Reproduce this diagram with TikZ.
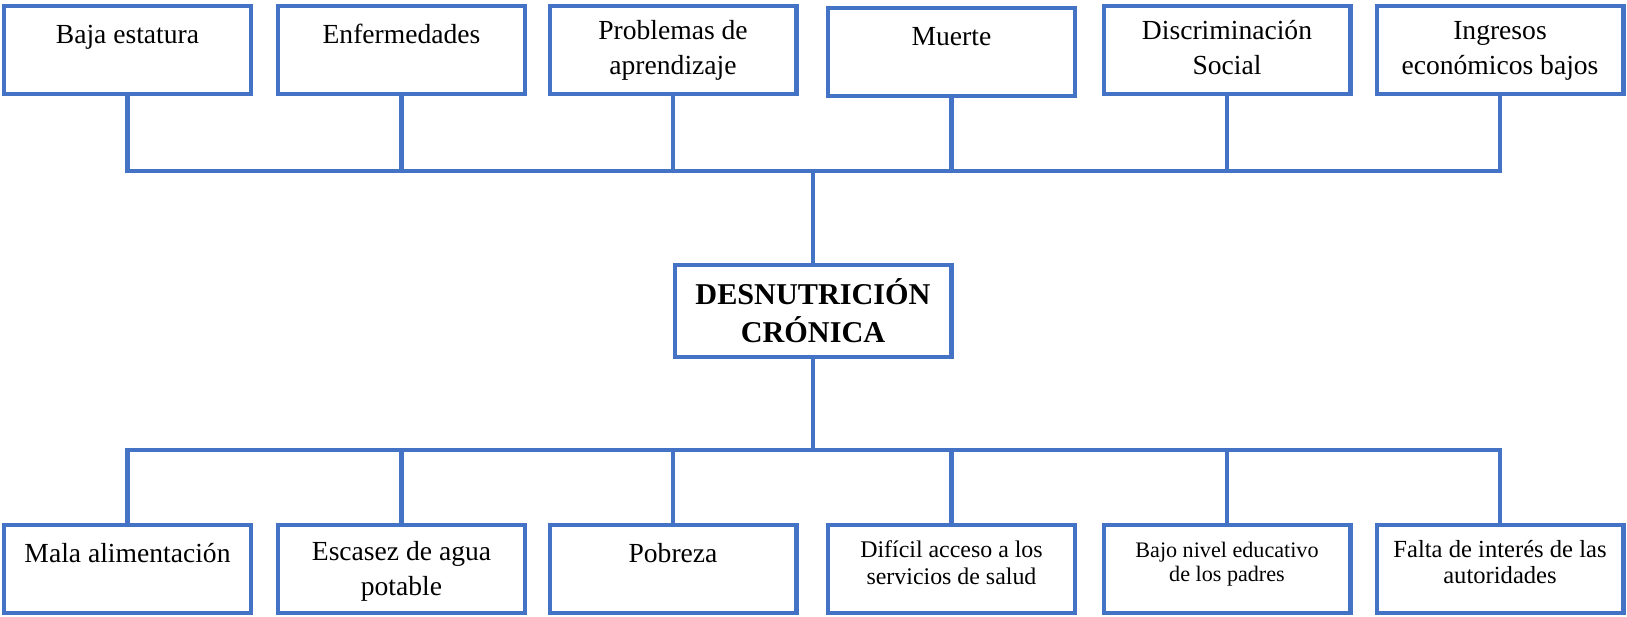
\documentclass[tikz,border=0pt]{standalone}
\usepackage{fontspec}
\setmainfont{Liberation Serif}
\definecolor{azul}{HTML}{4472C4}
\newcommand{\rotulo}[2]{\parbox[c][1.76cm][t]{4.94cm}{\centering\rule{0pt}{#1}#2}}
\tikzset{
    caja/.style={draw=azul, line width=2.3pt, inner sep=0pt, font=\fontsize{15.7}{20.4}\selectfont},
    cajachica/.style={caja, font=\fontsize{13.6}{15.5}\selectfont},
    central/.style={draw=azul, line width=2.3pt, inner sep=0pt, minimum width=5.54cm, minimum height=1.84cm, align=center, font=\fontsize{17.2}{21.8}\selectfont\bfseries},
    linea/.style={draw=azul, line width=2.3pt}
}

\begin{document}
\begin{tikzpicture}[x=.02cm, y=-.02cm]
    \useasboundingbox (0,0) rectangle (1627,616);
    \node[caja] (e1) at (127.5,50) {\rotulo{.74cm}{Baja estatura}};
    \node[caja] (e2) at (401.5,50) {\rotulo{.74cm}{Enfermedades}};
    \node[caja] (e3) at (673,50) {\rotulo{.66cm}{Problemas de\\aprendizaje}};
    \node[caja] (e4) at (951.5,52) {\rotulo{.74cm}{Muerte}};
    \node[caja] (e5) at (1227,50) {\rotulo{.66cm}{Discriminación\\Social}};
    \node[caja] (e6) at (1500,50) {\rotulo{.66cm}{Ingresos\\económicos bajos}};
    \node[central] (dc) at (813,311) {DESNUTRICIÓN\\CRÓNICA};
    \node[caja] (c1) at (127.5,569) {\rotulo{.74cm}{Mala alimentación}};
    \node[caja] (c2) at (401.5,569) {\rotulo{.70cm}{Escasez de agua\\potable}};
    \node[caja] (c3) at (673,569) {\rotulo{.74cm}{Pobreza}};
    \node[cajachica] (c4) at (951.5,569) {\rotulo{.65cm}{Difícil acceso a los\\servicios de salud}};
    \node[cajachica, font=\fontsize{12.6}{14}\selectfont] (c5) at (1227,569) {\rotulo{.64cm}{Bajo nivel educativo\\de los padres}};
    \node[cajachica, font=\fontsize{14}{15}\selectfont] (c6) at (1500,569) {\rotulo{.65cm}{Falta de interés de las\\autoridades}};
    \coordinate (nsup) at (813,171);
    \coordinate (ninf) at (813,450);
    \draw[linea] (e1.south) |- (nsup);
    \draw[linea] (e2.south) |- (nsup);
    \draw[linea] (e3.south) |- (nsup);
    \draw[linea] (e4.south) |- (nsup);
    \draw[linea] (e5.south) |- (nsup);
    \draw[linea] (e6.south) |- (nsup);
    \draw[linea] (nsup) -- (dc.north);
    \draw[linea] (dc.south) -- (ninf);
    \draw[linea] (ninf) -| (c1.north);
    \draw[linea] (ninf) -| (c2.north);
    \draw[linea] (ninf) -| (c3.north);
    \draw[linea] (ninf) -| (c4.north);
    \draw[linea] (ninf) -| (c5.north);
    \draw[linea] (ninf) -| (c6.north);
\end{tikzpicture}
\end{document}
